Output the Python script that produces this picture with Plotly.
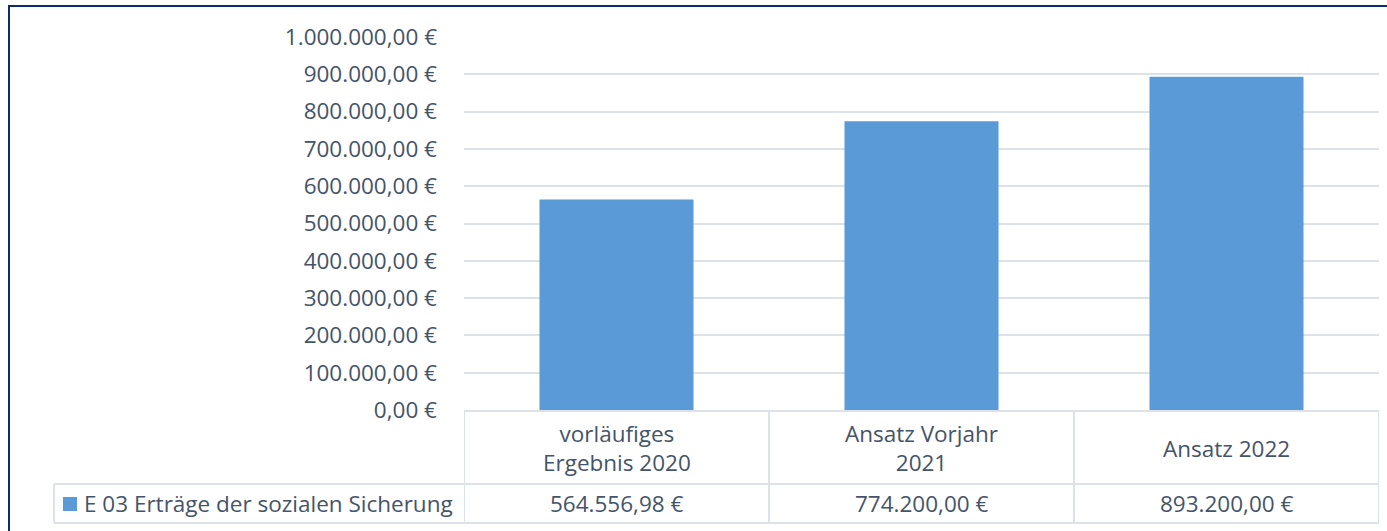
import plotly.graph_objects as go

# ---- data ----
categories = ["vorläufiges Ergebnis 2020", "Ansatz Vorjahr 2021", "Ansatz 2022"]
category_labels = ["vorläufiges<br>Ergebnis 2020", "Ansatz Vorjahr<br>2021", "Ansatz 2022"]
series_name = "E 03 Erträge der sozialen Sicherung"
values = [564556.98, 774200.00, 893200.00]
y_tickvals = [0, 100000, 200000, 300000, 400000, 500000, 600000, 700000, 800000, 900000, 1000000]
y_ticktext = ["0,00 €", "100.000,00 €", "200.000,00 €", "300.000,00 €", "400.000,00 €",
              "500.000,00 €", "600.000,00 €", "700.000,00 €", "800.000,00 €", "900.000,00 €",
              "1.000.000,00 €"]

# ---- layout constants ----
W, H = 1387, 531
ML, MR, MT, MB = 464, 8, 37, 121
PW, PH = W - ML - MR, H - MT - MB
FONT = "Segoe UI, Open Sans, sans-serif"
FS = 22.5
TXT = "#44546A"
GRID = "#dde1e8"
BAR = "#5a9ad6"
BORDER = "#0c2c6c"


def px(x):
    return (x - ML) / PW


def py(y):
    return (H - MB - y) / PH


def de(v):
    s = f"{v:,.2f}"
    return s.replace(",", "X").replace(".", ",").replace("X", ".") + " €"


fig = go.Figure()
fig.add_trace(go.Bar(
    x=list(range(len(categories))), y=values, name=series_name,
    marker=dict(color=BAR, line=dict(width=0)), showlegend=False,
    hovertext=categories,
))

shapes = []
# outer frame
shapes.append(dict(type="rect", xref="paper", yref="paper",
                   x0=px(9), x1=px(W + 10), y0=py(6), y1=py(H + 10),
                   line=dict(color=BORDER, width=2), fillcolor="rgba(0,0,0,0)", layer="below"))

tl = dict(color=GRID, width=2)
n = len(categories)
top, mid, bot = 411, 484, 523
# horizontal table lines
shapes.append(dict(type="line", xref="x", yref="paper", x0=-0.5, x1=n - 0.5, y0=py(top), y1=py(top), line=tl))
for yy in (mid, bot):
    shapes.append(dict(type="line", xref="paper", yref="paper", x0=px(54), x1=1, y0=py(yy), y1=py(yy), line=tl))
# vertical table lines
for i in range(n + 1):
    shapes.append(dict(type="line", xref="x", yref="paper", x0=i - 0.5, x1=i - 0.5,
                       y0=py(top), y1=py(bot), line=tl))
shapes.append(dict(type="line", xref="paper", yref="paper", x0=px(54), x1=px(54),
                   y0=py(mid), y1=py(bot), line=tl))
# legend key
shapes.append(dict(type="rect", xref="paper", yref="paper", x0=px(63), x1=px(77),
                   y0=py(511), y1=py(497), line=dict(width=0), fillcolor=BAR))

annotations = []
for i, lab in enumerate(category_labels):
    annotations.append(dict(x=i, xref="x", y=py(448), yref="paper", text=lab, showarrow=False,
                            xanchor="center", yanchor="middle",
                            font=dict(family=FONT, size=FS, color=TXT)))
for i, v in enumerate(values):
    annotations.append(dict(x=i, xref="x", y=py(503.5), yref="paper", text=de(v), showarrow=False,
                            xanchor="center", yanchor="middle",
                            font=dict(family=FONT, size=FS, color=TXT)))
annotations.append(dict(x=px(82), xref="paper", y=py(503.5), yref="paper", text=series_name,
                        showarrow=False, xanchor="left", yanchor="middle",
                        font=dict(family=FONT, size=FS, color=TXT)))

fig.update_layout(
    width=W, height=H,
    margin=dict(l=ML, r=MR, t=MT, b=MB, pad=0),
    paper_bgcolor="white", plot_bgcolor="white",
    bargap=0.495,
    font=dict(family=FONT, size=FS, color=TXT),
    xaxis=dict(range=[-0.5, n - 0.5], showticklabels=False, showgrid=False, zeroline=False,
               showline=False, fixedrange=True),
    yaxis=dict(range=[0, 1000000], tickvals=y_tickvals, ticktext=y_ticktext,
               showgrid=True, gridcolor=GRID, gridwidth=1.5, zeroline=False, showline=False,
               ticks="", ticklabelstandoff=26, tickfont=dict(family=FONT, size=FS, color=TXT)),
    shapes=shapes, annotations=annotations,
)

fig.write_html("out.html", config={"displayModeBar": False},
               post_script="document.body.style.margin='0';document.body.style.overflow='hidden';")
